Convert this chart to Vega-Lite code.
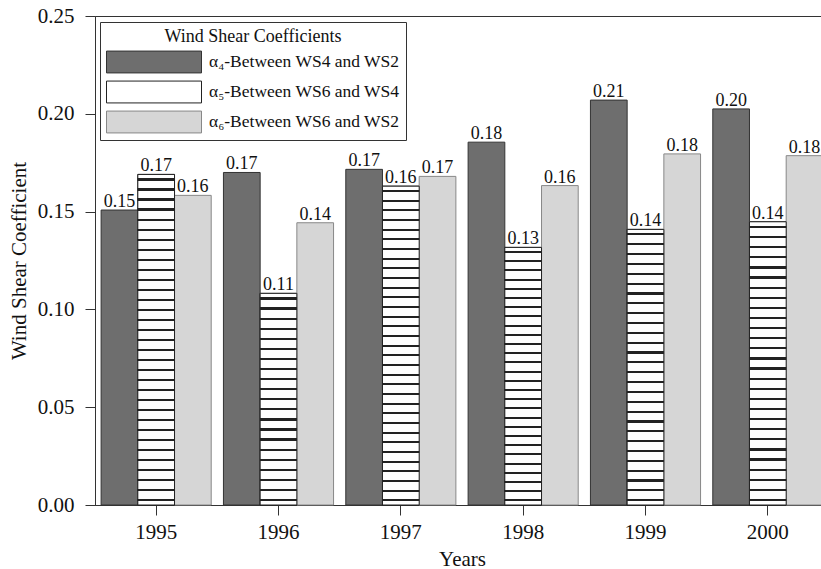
{
  "$schema": "https://vega.github.io/schema/vega-lite/v6.json",
  "autosize": {"type": "none"},
  "padding": {"left": 95, "top": 16, "right": 0, "bottom": 64},
  "width": 726,
  "height": 489,
  "background": "white",
  "config": {
    "font": "Liberation Serif",
    "view": {"stroke": "#333", "strokeWidth": 1},
    "axisY": {"grid": false, "tickSize": 10, "labelPadding": 11, "labelFontSize": 21, "titleFontSize": 21, "titleFontWeight": "normal", "domainColor": "#333", "tickColor": "#333", "labelColor": "#111", "titleColor": "#111", "titlePadding": 8},
    "axisX": {"grid": false, "tickSize": 10, "labelAngle": 0, "labelPadding": 6, "labelFontSize": 21, "titleFontSize": 21, "titleFontWeight": "normal", "titlePadding": 6, "domainColor": "#333", "tickColor": "#333", "labelColor": "#111", "titleColor": "#111"}
  },
  "data": {
    "values": [
      {"year": "1995", "series": "a4", "value": 0.1508, "label": "0.15"},
      {"year": "1995", "series": "a5", "value": 0.169, "label": "0.17"},
      {"year": "1995", "series": "a6", "value": 0.1583, "label": "0.16"},
      {"year": "1996", "series": "a4", "value": 0.170, "label": "0.17"},
      {"year": "1996", "series": "a5", "value": 0.1082, "label": "0.11"},
      {"year": "1996", "series": "a6", "value": 0.1443, "label": "0.14"},
      {"year": "1997", "series": "a4", "value": 0.1716, "label": "0.17"},
      {"year": "1997", "series": "a5", "value": 0.163, "label": "0.16"},
      {"year": "1997", "series": "a6", "value": 0.168, "label": "0.17"},
      {"year": "1998", "series": "a4", "value": 0.1855, "label": "0.18"},
      {"year": "1998", "series": "a5", "value": 0.1317, "label": "0.13"},
      {"year": "1998", "series": "a6", "value": 0.1633, "label": "0.16"},
      {"year": "1999", "series": "a4", "value": 0.207, "label": "0.21"},
      {"year": "1999", "series": "a5", "value": 0.1409, "label": "0.14"},
      {"year": "1999", "series": "a6", "value": 0.1795, "label": "0.18"},
      {"year": "2000", "series": "a4", "value": 0.2025, "label": "0.20"},
      {"year": "2000", "series": "a5", "value": 0.1448, "label": "0.14"},
      {"year": "2000", "series": "a6", "value": 0.1786, "label": "0.18"}
    ]
  },
  "encoding": {
    "x": {"field": "year", "type": "nominal", "title": "Years", "scale": {"range": [0, 734], "paddingInner": 0.1, "paddingOuter": 0.05}},
    "xOffset": {"field": "series", "type": "nominal", "sort": ["a4", "a5", "a6"], "scale": {"paddingInner": 0, "paddingOuter": 0}},
    "y": {"field": "value", "type": "quantitative", "title": "Wind Shear Coefficient", "scale": {"domain": [0, 0.25], "nice": false}, "axis": {"values": [0, 0.05, 0.1, 0.15, 0.2, 0.25], "format": ".2f"}}
  },
  "layer": [
    {
      "mark": {"type": "bar", "strokeWidth": 1},
      "encoding": {
        "fill": {
          "field": "series", "type": "nominal",
          "scale": {"domain": ["a4", "a5", "a6"], "range": ["#6e6e6e", "#ffffff", "#d6d6d6"]},
          "legend": {
            "orient": "none", "legendX": 5, "legendY": 6,
            "title": "Wind Shear Coefficients", "titleFontSize": 18, "titleFontWeight": "normal", "titleAnchor": "middle", "titleColor": "#111", "titlePadding": 4,
            "labelFontSize": 17.5, "labelColor": "#111", "labelLimit": 400, "labelOffset": 7,
            "labelExpr": "datum.value == 'a4' ? 'α₄-Between WS4 and WS2' : datum.value == 'a5' ? 'α₅-Between WS6 and WS4' : 'α₆-Between WS6 and WS2'",
            "symbolType": "M-1,-0.23H1V0.23H-1Z", "symbolSize": 9025, "symbolStrokeColor": "#333", "symbolStrokeWidth": 1, "symbolOpacity": 1,
            "clipHeight": 24, "rowPadding": 6, "padding": 6, "strokeColor": "#333", "fillColor": "white",
            "encode": {"symbols": {"update": {"fill": [
              {"test": "datum.value === 'a4'", "value": "#6e6e6e"},
              {"test": "datum.value === 'a6'", "value": "#d6d6d6"},
              {"value": {"gradient": "linear", "x1": 0, "y1": 0, "x2": 0, "y2": 1, "stops": [
                {"offset": 0, "color": "#fff"}, {"offset": 0.38, "color": "#fff"}, {"offset": 0.38, "color": "#222"}, {"offset": 0.47, "color": "#222"}, {"offset": 0.47, "color": "#fff"},
                {"offset": 0.76, "color": "#fff"}, {"offset": 0.76, "color": "#222"}, {"offset": 0.85, "color": "#222"}, {"offset": 0.85, "color": "#fff"}, {"offset": 1, "color": "#fff"}]}}
            ]}}}
          }
        },
        "stroke": {"field": "series", "type": "nominal", "scale": {"domain": ["a4", "a5", "a6"], "range": ["#333333", "#222222", "#888888"]}, "legend": null}
      }
    },
    {
      "transform": [{"filter": "datum.series === 'a5'"}],
      "mark": {"type": "bar", "stroke": "#222", "strokeWidth": 1},
      "encoding": {
        "fill": {
          "condition": [
            {"test": "datum.value > 0.16", "value": {"gradient": "linear", "x1": 0, "y1": 0, "x2": 0, "y2": 1, "stops": [
              {"offset": 0.0121, "color": "#fff"}, {"offset": 0.0121, "color": "#222"}, {"offset": 0.0188, "color": "#222"}, {"offset": 0.0188, "color": "#fff"},
              {"offset": 0.0424, "color": "#fff"}, {"offset": 0.0424, "color": "#222"}, {"offset": 0.0491, "color": "#222"}, {"offset": 0.0491, "color": "#fff"},
              {"offset": 0.0727, "color": "#fff"}, {"offset": 0.0727, "color": "#222"}, {"offset": 0.0794, "color": "#222"}, {"offset": 0.0794, "color": "#fff"},
              {"offset": 0.1030, "color": "#fff"}, {"offset": 0.1030, "color": "#222"}, {"offset": 0.1097, "color": "#222"}, {"offset": 0.1097, "color": "#fff"},
              {"offset": 0.1333, "color": "#fff"}, {"offset": 0.1333, "color": "#222"}, {"offset": 0.1400, "color": "#222"}, {"offset": 0.1400, "color": "#fff"},
              {"offset": 0.1636, "color": "#fff"}, {"offset": 0.1636, "color": "#222"}, {"offset": 0.1703, "color": "#222"}, {"offset": 0.1703, "color": "#fff"},
              {"offset": 0.1939, "color": "#fff"}, {"offset": 0.1939, "color": "#222"}, {"offset": 0.2006, "color": "#222"}, {"offset": 0.2006, "color": "#fff"},
              {"offset": 0.2242, "color": "#fff"}, {"offset": 0.2242, "color": "#222"}, {"offset": 0.2309, "color": "#222"}, {"offset": 0.2309, "color": "#fff"},
              {"offset": 0.2545, "color": "#fff"}, {"offset": 0.2545, "color": "#222"}, {"offset": 0.2612, "color": "#222"}, {"offset": 0.2612, "color": "#fff"},
              {"offset": 0.2848, "color": "#fff"}, {"offset": 0.2848, "color": "#222"}, {"offset": 0.2915, "color": "#222"}, {"offset": 0.2915, "color": "#fff"},
              {"offset": 0.3151, "color": "#fff"}, {"offset": 0.3151, "color": "#222"}, {"offset": 0.3218, "color": "#222"}, {"offset": 0.3218, "color": "#fff"},
              {"offset": 0.3454, "color": "#fff"}, {"offset": 0.3454, "color": "#222"}, {"offset": 0.3521, "color": "#222"}, {"offset": 0.3521, "color": "#fff"},
              {"offset": 0.3757, "color": "#fff"}, {"offset": 0.3757, "color": "#222"}, {"offset": 0.3824, "color": "#222"}, {"offset": 0.3824, "color": "#fff"},
              {"offset": 0.4060, "color": "#fff"}, {"offset": 0.4060, "color": "#222"}, {"offset": 0.4127, "color": "#222"}, {"offset": 0.4127, "color": "#fff"},
              {"offset": 0.4363, "color": "#fff"}, {"offset": 0.4363, "color": "#222"}, {"offset": 0.4430, "color": "#222"}, {"offset": 0.4430, "color": "#fff"},
              {"offset": 0.4666, "color": "#fff"}, {"offset": 0.4666, "color": "#222"}, {"offset": 0.4733, "color": "#222"}, {"offset": 0.4733, "color": "#fff"},
              {"offset": 0.4969, "color": "#fff"}, {"offset": 0.4969, "color": "#222"}, {"offset": 0.5036, "color": "#222"}, {"offset": 0.5036, "color": "#fff"},
              {"offset": 0.5273, "color": "#fff"}, {"offset": 0.5273, "color": "#222"}, {"offset": 0.5340, "color": "#222"}, {"offset": 0.5340, "color": "#fff"},
              {"offset": 0.5576, "color": "#fff"}, {"offset": 0.5576, "color": "#222"}, {"offset": 0.5643, "color": "#222"}, {"offset": 0.5643, "color": "#fff"},
              {"offset": 0.5879, "color": "#fff"}, {"offset": 0.5879, "color": "#222"}, {"offset": 0.5946, "color": "#222"}, {"offset": 0.5946, "color": "#fff"},
              {"offset": 0.6182, "color": "#fff"}, {"offset": 0.6182, "color": "#222"}, {"offset": 0.6249, "color": "#222"}, {"offset": 0.6249, "color": "#fff"},
              {"offset": 0.6485, "color": "#fff"}, {"offset": 0.6485, "color": "#222"}, {"offset": 0.6552, "color": "#222"}, {"offset": 0.6552, "color": "#fff"},
              {"offset": 0.6788, "color": "#fff"}, {"offset": 0.6788, "color": "#222"}, {"offset": 0.6855, "color": "#222"}, {"offset": 0.6855, "color": "#fff"},
              {"offset": 0.7091, "color": "#fff"}, {"offset": 0.7091, "color": "#222"}, {"offset": 0.7158, "color": "#222"}, {"offset": 0.7158, "color": "#fff"},
              {"offset": 0.7394, "color": "#fff"}, {"offset": 0.7394, "color": "#222"}, {"offset": 0.7461, "color": "#222"}, {"offset": 0.7461, "color": "#fff"},
              {"offset": 0.7697, "color": "#fff"}, {"offset": 0.7697, "color": "#222"}, {"offset": 0.7764, "color": "#222"}, {"offset": 0.7764, "color": "#fff"},
              {"offset": 0.8000, "color": "#fff"}, {"offset": 0.8000, "color": "#222"}, {"offset": 0.8067, "color": "#222"}, {"offset": 0.8067, "color": "#fff"},
              {"offset": 0.8303, "color": "#fff"}, {"offset": 0.8303, "color": "#222"}, {"offset": 0.8370, "color": "#222"}, {"offset": 0.8370, "color": "#fff"},
              {"offset": 0.8606, "color": "#fff"}, {"offset": 0.8606, "color": "#222"}, {"offset": 0.8673, "color": "#222"}, {"offset": 0.8673, "color": "#fff"},
              {"offset": 0.8909, "color": "#fff"}, {"offset": 0.8909, "color": "#222"}, {"offset": 0.8976, "color": "#222"}, {"offset": 0.8976, "color": "#fff"},
              {"offset": 0.9212, "color": "#fff"}, {"offset": 0.9212, "color": "#222"}, {"offset": 0.9279, "color": "#222"}, {"offset": 0.9279, "color": "#fff"},
              {"offset": 0.9515, "color": "#fff"}, {"offset": 0.9515, "color": "#222"}, {"offset": 0.9582, "color": "#222"}, {"offset": 0.9582, "color": "#fff"},
              {"offset": 0.9818, "color": "#fff"}, {"offset": 0.9818, "color": "#222"}, {"offset": 0.9885, "color": "#222"}, {"offset": 0.9885, "color": "#fff"}
            ]}},
            {"test": "datum.value > 0.12", "value": {"gradient": "linear", "x1": 0, "y1": 0, "x2": 0, "y2": 1, "stops": [
              {"offset": 0.0143, "color": "#fff"}, {"offset": 0.0143, "color": "#222"}, {"offset": 0.0221, "color": "#222"}, {"offset": 0.0221, "color": "#fff"},
              {"offset": 0.0500, "color": "#fff"}, {"offset": 0.0500, "color": "#222"}, {"offset": 0.0578, "color": "#222"}, {"offset": 0.0578, "color": "#fff"},
              {"offset": 0.0857, "color": "#fff"}, {"offset": 0.0857, "color": "#222"}, {"offset": 0.0935, "color": "#222"}, {"offset": 0.0935, "color": "#fff"},
              {"offset": 0.1214, "color": "#fff"}, {"offset": 0.1214, "color": "#222"}, {"offset": 0.1292, "color": "#222"}, {"offset": 0.1292, "color": "#fff"},
              {"offset": 0.1572, "color": "#fff"}, {"offset": 0.1572, "color": "#222"}, {"offset": 0.1650, "color": "#222"}, {"offset": 0.1650, "color": "#fff"},
              {"offset": 0.1929, "color": "#fff"}, {"offset": 0.1929, "color": "#222"}, {"offset": 0.2007, "color": "#222"}, {"offset": 0.2007, "color": "#fff"},
              {"offset": 0.2286, "color": "#fff"}, {"offset": 0.2286, "color": "#222"}, {"offset": 0.2364, "color": "#222"}, {"offset": 0.2364, "color": "#fff"},
              {"offset": 0.2643, "color": "#fff"}, {"offset": 0.2643, "color": "#222"}, {"offset": 0.2721, "color": "#222"}, {"offset": 0.2721, "color": "#fff"},
              {"offset": 0.3000, "color": "#fff"}, {"offset": 0.3000, "color": "#222"}, {"offset": 0.3078, "color": "#222"}, {"offset": 0.3078, "color": "#fff"},
              {"offset": 0.3357, "color": "#fff"}, {"offset": 0.3357, "color": "#222"}, {"offset": 0.3435, "color": "#222"}, {"offset": 0.3435, "color": "#fff"},
              {"offset": 0.3714, "color": "#fff"}, {"offset": 0.3714, "color": "#222"}, {"offset": 0.3792, "color": "#222"}, {"offset": 0.3792, "color": "#fff"},
              {"offset": 0.4072, "color": "#fff"}, {"offset": 0.4072, "color": "#222"}, {"offset": 0.4150, "color": "#222"}, {"offset": 0.4150, "color": "#fff"},
              {"offset": 0.4429, "color": "#fff"}, {"offset": 0.4429, "color": "#222"}, {"offset": 0.4507, "color": "#222"}, {"offset": 0.4507, "color": "#fff"},
              {"offset": 0.4786, "color": "#fff"}, {"offset": 0.4786, "color": "#222"}, {"offset": 0.4864, "color": "#222"}, {"offset": 0.4864, "color": "#fff"},
              {"offset": 0.5143, "color": "#fff"}, {"offset": 0.5143, "color": "#222"}, {"offset": 0.5221, "color": "#222"}, {"offset": 0.5221, "color": "#fff"},
              {"offset": 0.5500, "color": "#fff"}, {"offset": 0.5500, "color": "#222"}, {"offset": 0.5578, "color": "#222"}, {"offset": 0.5578, "color": "#fff"},
              {"offset": 0.5857, "color": "#fff"}, {"offset": 0.5857, "color": "#222"}, {"offset": 0.5935, "color": "#222"}, {"offset": 0.5935, "color": "#fff"},
              {"offset": 0.6214, "color": "#fff"}, {"offset": 0.6214, "color": "#222"}, {"offset": 0.6292, "color": "#222"}, {"offset": 0.6292, "color": "#fff"},
              {"offset": 0.6572, "color": "#fff"}, {"offset": 0.6572, "color": "#222"}, {"offset": 0.6650, "color": "#222"}, {"offset": 0.6650, "color": "#fff"},
              {"offset": 0.6929, "color": "#fff"}, {"offset": 0.6929, "color": "#222"}, {"offset": 0.7007, "color": "#222"}, {"offset": 0.7007, "color": "#fff"},
              {"offset": 0.7286, "color": "#fff"}, {"offset": 0.7286, "color": "#222"}, {"offset": 0.7364, "color": "#222"}, {"offset": 0.7364, "color": "#fff"},
              {"offset": 0.7643, "color": "#fff"}, {"offset": 0.7643, "color": "#222"}, {"offset": 0.7721, "color": "#222"}, {"offset": 0.7721, "color": "#fff"},
              {"offset": 0.8000, "color": "#fff"}, {"offset": 0.8000, "color": "#222"}, {"offset": 0.8078, "color": "#222"}, {"offset": 0.8078, "color": "#fff"},
              {"offset": 0.8357, "color": "#fff"}, {"offset": 0.8357, "color": "#222"}, {"offset": 0.8435, "color": "#222"}, {"offset": 0.8435, "color": "#fff"},
              {"offset": 0.8714, "color": "#fff"}, {"offset": 0.8714, "color": "#222"}, {"offset": 0.8792, "color": "#222"}, {"offset": 0.8792, "color": "#fff"},
              {"offset": 0.9072, "color": "#fff"}, {"offset": 0.9072, "color": "#222"}, {"offset": 0.9150, "color": "#222"}, {"offset": 0.9150, "color": "#fff"},
              {"offset": 0.9429, "color": "#fff"}, {"offset": 0.9429, "color": "#222"}, {"offset": 0.9507, "color": "#222"}, {"offset": 0.9507, "color": "#fff"},
              {"offset": 0.9786, "color": "#fff"}, {"offset": 0.9786, "color": "#222"}, {"offset": 0.9864, "color": "#222"}, {"offset": 0.9864, "color": "#fff"}
            ]}}
          ],
          "value": {"gradient": "linear", "x1": 0, "y1": 0, "x2": 0, "y2": 1, "stops": [
            {"offset": 0.0190, "color": "#fff"}, {"offset": 0.0190, "color": "#222"}, {"offset": 0.0295, "color": "#222"}, {"offset": 0.0295, "color": "#fff"},
            {"offset": 0.0666, "color": "#fff"}, {"offset": 0.0666, "color": "#222"}, {"offset": 0.0771, "color": "#222"}, {"offset": 0.0771, "color": "#fff"},
            {"offset": 0.1142, "color": "#fff"}, {"offset": 0.1142, "color": "#222"}, {"offset": 0.1247, "color": "#222"}, {"offset": 0.1247, "color": "#fff"},
            {"offset": 0.1619, "color": "#fff"}, {"offset": 0.1619, "color": "#222"}, {"offset": 0.1724, "color": "#222"}, {"offset": 0.1724, "color": "#fff"},
            {"offset": 0.2095, "color": "#fff"}, {"offset": 0.2095, "color": "#222"}, {"offset": 0.2200, "color": "#222"}, {"offset": 0.2200, "color": "#fff"},
            {"offset": 0.2571, "color": "#fff"}, {"offset": 0.2571, "color": "#222"}, {"offset": 0.2676, "color": "#222"}, {"offset": 0.2676, "color": "#fff"},
            {"offset": 0.3047, "color": "#fff"}, {"offset": 0.3047, "color": "#222"}, {"offset": 0.3152, "color": "#222"}, {"offset": 0.3152, "color": "#fff"},
            {"offset": 0.3523, "color": "#fff"}, {"offset": 0.3523, "color": "#222"}, {"offset": 0.3628, "color": "#222"}, {"offset": 0.3628, "color": "#fff"},
            {"offset": 0.4000, "color": "#fff"}, {"offset": 0.4000, "color": "#222"}, {"offset": 0.4105, "color": "#222"}, {"offset": 0.4105, "color": "#fff"},
            {"offset": 0.4476, "color": "#fff"}, {"offset": 0.4476, "color": "#222"}, {"offset": 0.4581, "color": "#222"}, {"offset": 0.4581, "color": "#fff"},
            {"offset": 0.4952, "color": "#fff"}, {"offset": 0.4952, "color": "#222"}, {"offset": 0.5057, "color": "#222"}, {"offset": 0.5057, "color": "#fff"},
            {"offset": 0.5428, "color": "#fff"}, {"offset": 0.5428, "color": "#222"}, {"offset": 0.5533, "color": "#222"}, {"offset": 0.5533, "color": "#fff"},
            {"offset": 0.5904, "color": "#fff"}, {"offset": 0.5904, "color": "#222"}, {"offset": 0.6009, "color": "#222"}, {"offset": 0.6009, "color": "#fff"},
            {"offset": 0.6380, "color": "#fff"}, {"offset": 0.6380, "color": "#222"}, {"offset": 0.6485, "color": "#222"}, {"offset": 0.6485, "color": "#fff"},
            {"offset": 0.6857, "color": "#fff"}, {"offset": 0.6857, "color": "#222"}, {"offset": 0.6962, "color": "#222"}, {"offset": 0.6962, "color": "#fff"},
            {"offset": 0.7333, "color": "#fff"}, {"offset": 0.7333, "color": "#222"}, {"offset": 0.7438, "color": "#222"}, {"offset": 0.7438, "color": "#fff"},
            {"offset": 0.7809, "color": "#fff"}, {"offset": 0.7809, "color": "#222"}, {"offset": 0.7914, "color": "#222"}, {"offset": 0.7914, "color": "#fff"},
            {"offset": 0.8285, "color": "#fff"}, {"offset": 0.8285, "color": "#222"}, {"offset": 0.8390, "color": "#222"}, {"offset": 0.8390, "color": "#fff"},
            {"offset": 0.8761, "color": "#fff"}, {"offset": 0.8761, "color": "#222"}, {"offset": 0.8866, "color": "#222"}, {"offset": 0.8866, "color": "#fff"},
            {"offset": 0.9238, "color": "#fff"}, {"offset": 0.9238, "color": "#222"}, {"offset": 0.9343, "color": "#222"}, {"offset": 0.9343, "color": "#fff"},
            {"offset": 0.9714, "color": "#fff"}, {"offset": 0.9714, "color": "#222"}, {"offset": 0.9819, "color": "#222"}, {"offset": 0.9819, "color": "#fff"}
          ]}
        }
      }
    },
    {
      "mark": {"type": "text", "baseline": "alphabetic", "dy": -3, "fontSize": 18, "color": "#111"},
      "encoding": {"text": {"field": "label", "type": "nominal"}}
    }
  ]
}
